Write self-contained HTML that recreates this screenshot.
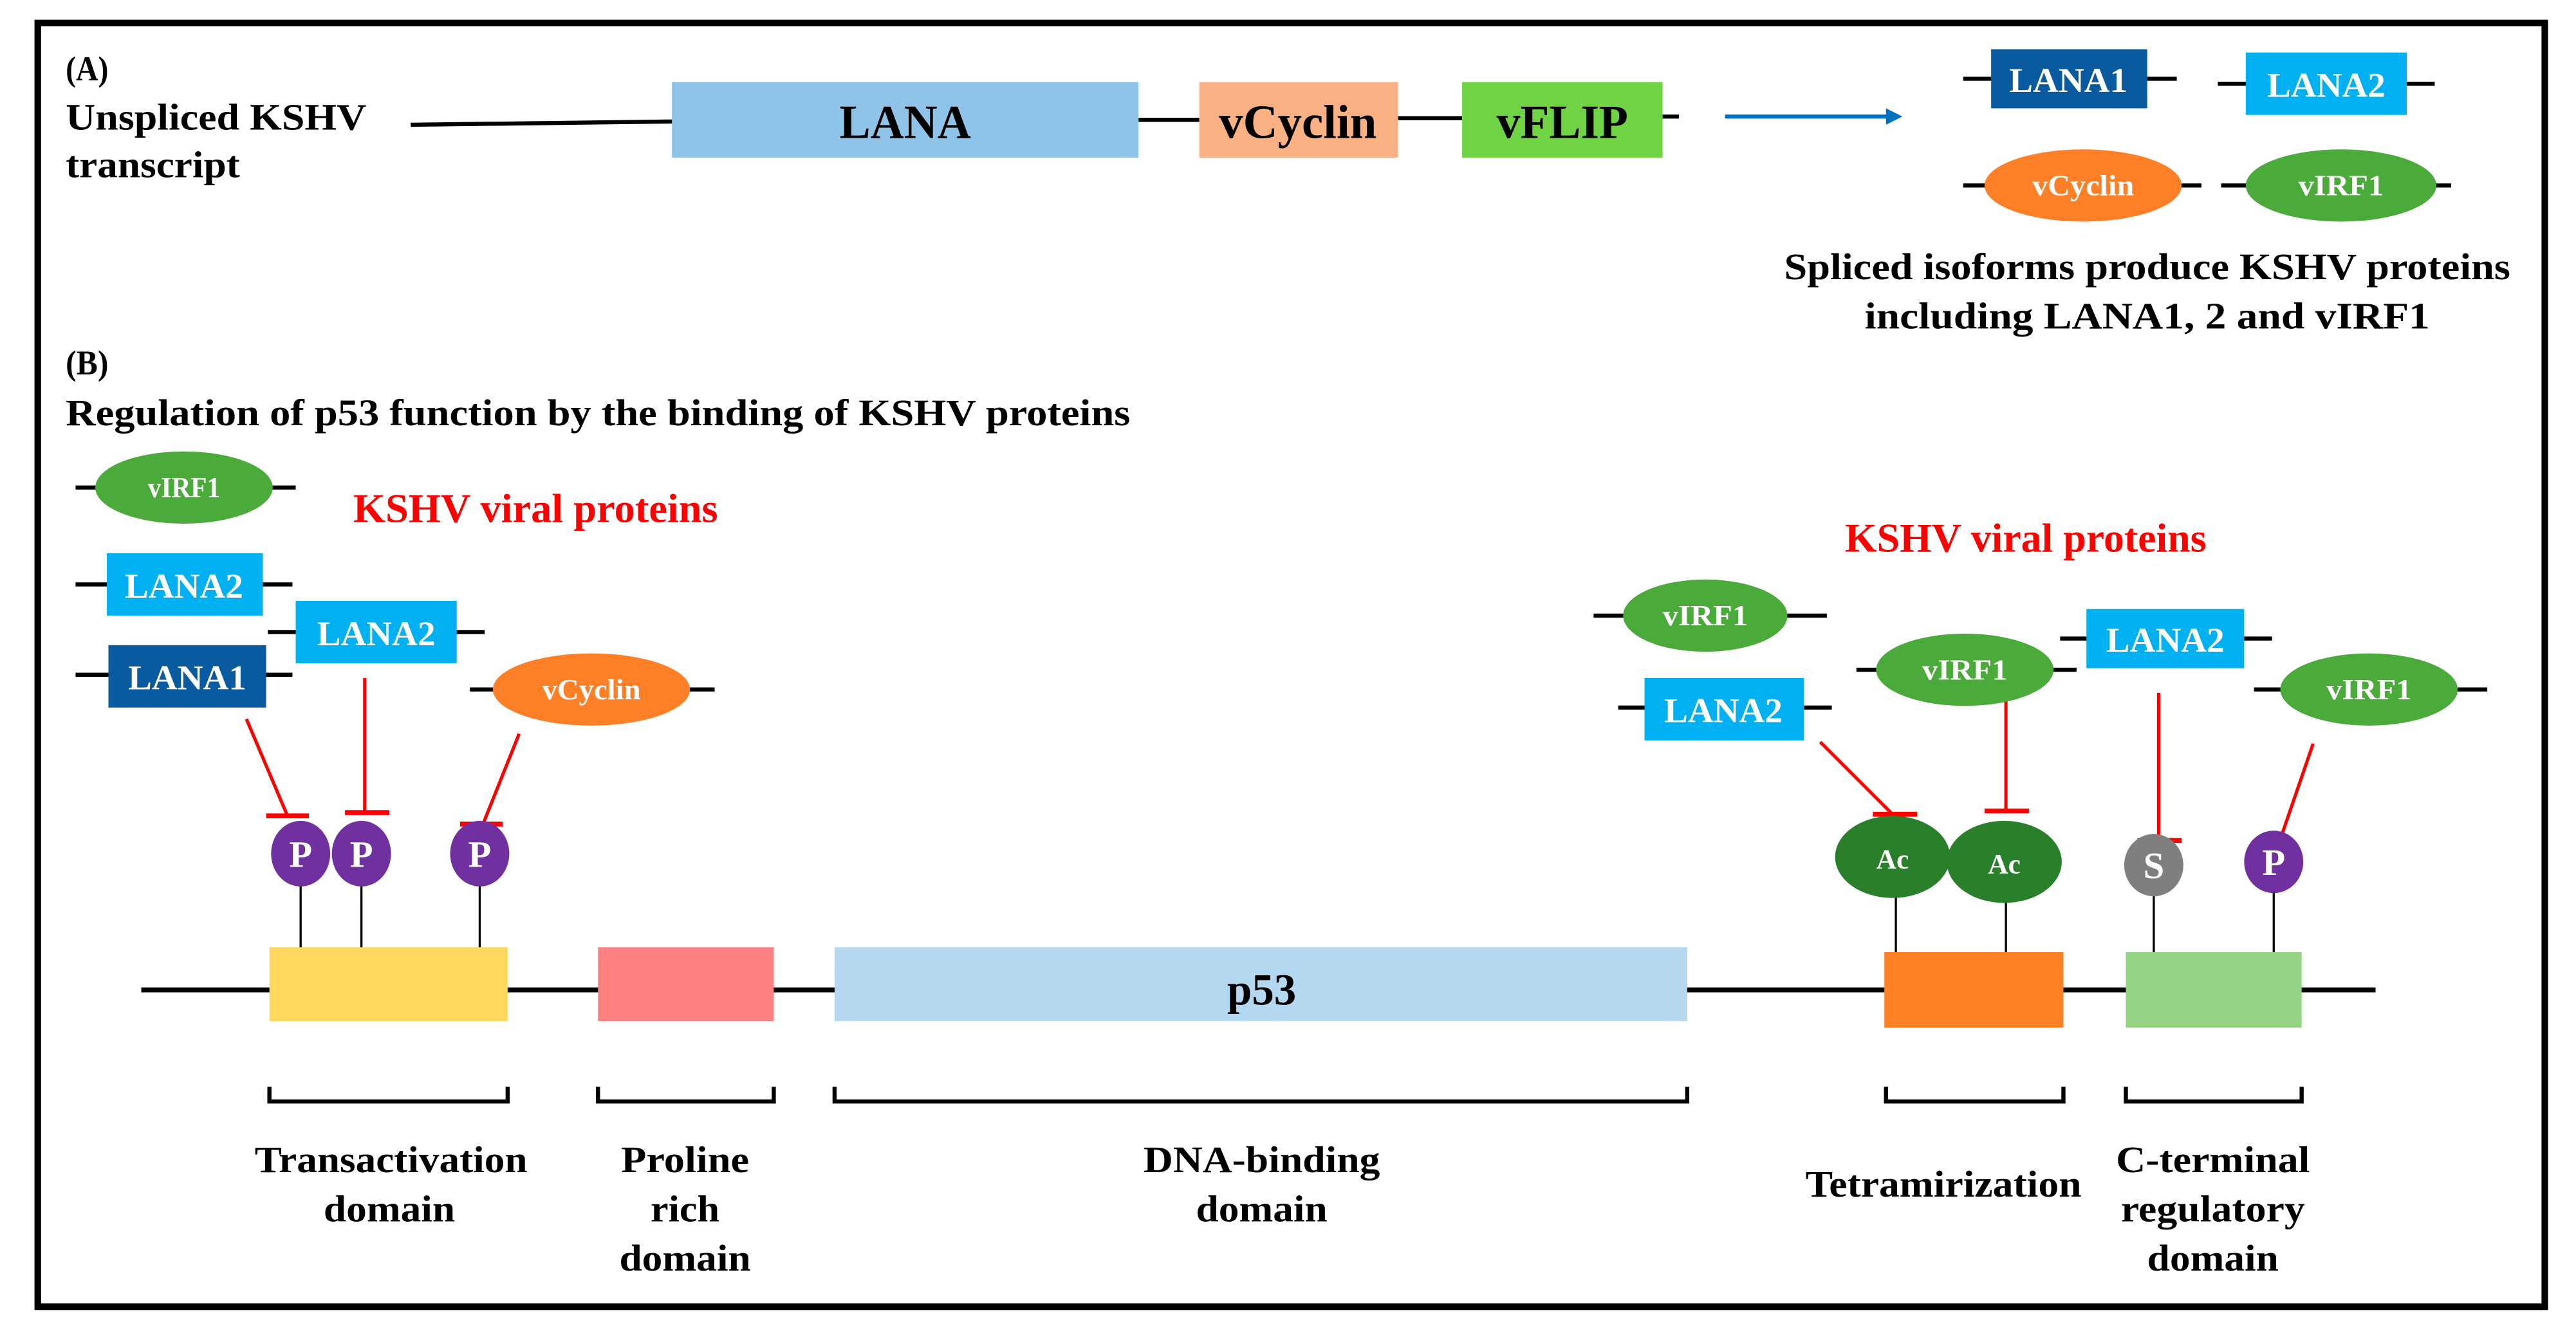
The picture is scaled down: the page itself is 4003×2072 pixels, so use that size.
<!DOCTYPE html>
<html><head><meta charset="utf-8"><style>
html,body{margin:0;padding:0;background:#fff;}
svg{display:block;}
text{font-family:"Liberation Serif",serif;font-weight:bold;}
</style></head><body>
<svg width="4003" height="2072" viewBox="0 0 1568 812" preserveAspectRatio="none" xmlns="http://www.w3.org/2000/svg">
<rect x="0" y="0" width="1568" height="812" fill="#fff"/>
<rect x="23" y="14" width="1526" height="782" fill="none" stroke="#000" stroke-width="4"/>

<!-- Part A -->
<text x="40" y="49" font-size="21" textLength="26" lengthAdjust="spacingAndGlyphs">(A)</text>
<text x="40" y="79" font-size="23" textLength="183" lengthAdjust="spacingAndGlyphs">Unspliced KSHV</text>
<text x="40" y="108" font-size="23" textLength="106" lengthAdjust="spacingAndGlyphs">transcript</text>
<g stroke="#000" stroke-width="2.5">
<line x1="250" y1="76" x2="410" y2="74"/>
<line x1="693" y1="73" x2="730" y2="73"/>
<line x1="851" y1="72" x2="890" y2="72"/>
<line x1="1012" y1="71" x2="1022" y2="71"/>
</g>
<rect x="409" y="50" width="284" height="46" fill="#8fc4e8"/>
<text x="551" y="84" font-size="29" text-anchor="middle" textLength="80" lengthAdjust="spacingAndGlyphs">LANA</text>
<rect x="730" y="50" width="121" height="46" fill="#f9b083"/>
<text x="790" y="84" font-size="29" text-anchor="middle" textLength="96" lengthAdjust="spacingAndGlyphs">vCyclin</text>
<rect x="890" y="50" width="122" height="46" fill="#6fd344"/>
<text x="951" y="84" font-size="29" text-anchor="middle" textLength="80" lengthAdjust="spacingAndGlyphs">vFLIP</text>
<line x1="1050" y1="71" x2="1150" y2="71" stroke="#0070c0" stroke-width="2.5"/>
<polygon points="1148,66 1158,71 1148,76" fill="#0070c0"/>

<g stroke="#000" stroke-width="2.5">
<line x1="1195" y1="48" x2="1325" y2="48"/>
<line x1="1350" y1="51" x2="1482" y2="51"/>
<line x1="1195" y1="113" x2="1340" y2="113"/>
<line x1="1352" y1="113" x2="1492" y2="113"/>
</g>
<rect x="1212" y="30" width="95" height="36" fill="#0a5aa0"/>
<text x="1259" y="56" font-size="21" fill="#fff" text-anchor="middle" textLength="72" lengthAdjust="spacingAndGlyphs">LANA1</text>
<rect x="1367" y="32" width="98" height="38" fill="#00b0f0"/>
<text x="1416" y="59" font-size="21" fill="#fff" text-anchor="middle" textLength="72" lengthAdjust="spacingAndGlyphs">LANA2</text>
<ellipse cx="1268" cy="113" rx="60" ry="22" fill="#ff7f27"/>
<text x="1268" y="119" font-size="18" fill="#fff" text-anchor="middle" textLength="62" lengthAdjust="spacingAndGlyphs">vCyclin</text>
<ellipse cx="1425" cy="113" rx="58" ry="22" fill="#4aaa3a"/>
<text x="1425" y="119" font-size="18" fill="#fff" text-anchor="middle" textLength="52" lengthAdjust="spacingAndGlyphs">vIRF1</text>
<text x="1307" y="170" font-size="23" text-anchor="middle" textLength="442" lengthAdjust="spacingAndGlyphs">Spliced isoforms produce KSHV proteins</text>
<text x="1307" y="200" font-size="23" text-anchor="middle" textLength="344" lengthAdjust="spacingAndGlyphs">including LANA1, 2 and vIRF1</text>

<!-- Part B -->
<text x="40" y="228" font-size="21" textLength="26" lengthAdjust="spacingAndGlyphs">(B)</text>
<text x="40" y="259" font-size="23" textLength="648" lengthAdjust="spacingAndGlyphs">Regulation of p53 function by the binding of KSHV proteins</text>
<text x="215" y="318" font-size="25" fill="#f00" textLength="222" lengthAdjust="spacingAndGlyphs">KSHV viral proteins</text>
<text x="1123" y="336" font-size="25" fill="#f00" textLength="220" lengthAdjust="spacingAndGlyphs">KSHV viral proteins</text>

<!-- inhibition -->
<g stroke="#f00" stroke-width="2">
<line x1="150" y1="438" x2="175" y2="497"/><line x1="162" y1="497" x2="188" y2="497" stroke-width="3"/>
<line x1="222" y1="413" x2="222" y2="495"/><line x1="210" y1="495" x2="237" y2="495" stroke-width="3"/>
<line x1="316" y1="447" x2="294" y2="502"/><line x1="280" y1="502" x2="306" y2="502" stroke-width="3"/>
<line x1="1108" y1="452" x2="1152" y2="496"/><line x1="1140" y1="496" x2="1167" y2="496" stroke-width="3"/>
<line x1="1221" y1="412" x2="1221" y2="494"/><line x1="1208" y1="494" x2="1235" y2="494" stroke-width="3"/>
<line x1="1314" y1="422" x2="1314" y2="512"/><line x1="1301" y1="512" x2="1328" y2="512" stroke-width="3"/>
<line x1="1408" y1="453" x2="1385" y2="520"/><line x1="1370" y1="520" x2="1398" y2="520" stroke-width="3"/>
</g>

<g stroke="#000" stroke-width="2.5">
<line x1="46" y1="297" x2="180" y2="297"/>
<line x1="46" y1="356" x2="178" y2="356"/>
<line x1="163" y1="385" x2="295" y2="385"/>
<line x1="46" y1="411" x2="178" y2="411"/>
<line x1="286" y1="420" x2="435" y2="420"/>
<line x1="970" y1="375" x2="1112" y2="375"/>
<line x1="985" y1="431" x2="1115" y2="431"/>
<line x1="1130" y1="408" x2="1264" y2="408"/>
<line x1="1254" y1="389" x2="1383" y2="389"/>
<line x1="1372" y1="420" x2="1514" y2="420"/>
</g>
<ellipse cx="112" cy="297" rx="54" ry="22" fill="#4aaa3a"/>
<text x="112" y="303" font-size="18" fill="#fff" text-anchor="middle" textLength="44" lengthAdjust="spacingAndGlyphs">vIRF1</text>
<rect x="65" y="337" width="95" height="38" fill="#00b0f0"/>
<text x="112" y="364" font-size="21" fill="#fff" text-anchor="middle" textLength="72" lengthAdjust="spacingAndGlyphs">LANA2</text>
<rect x="180" y="366" width="98" height="38" fill="#00b0f0"/>
<text x="229" y="393" font-size="21" fill="#fff" text-anchor="middle" textLength="72" lengthAdjust="spacingAndGlyphs">LANA2</text>
<rect x="66" y="393" width="96" height="38" fill="#0a5aa0"/>
<text x="114" y="420" font-size="21" fill="#fff" text-anchor="middle" textLength="72" lengthAdjust="spacingAndGlyphs">LANA1</text>
<ellipse cx="360" cy="420" rx="60" ry="22" fill="#ff7f27"/>
<text x="360" y="426" font-size="18" fill="#fff" text-anchor="middle" textLength="60" lengthAdjust="spacingAndGlyphs">vCyclin</text>

<ellipse cx="1038" cy="375" rx="50" ry="22" fill="#4aaa3a"/>
<text x="1038" y="381" font-size="18" fill="#fff" text-anchor="middle" textLength="52" lengthAdjust="spacingAndGlyphs">vIRF1</text>
<rect x="1001" y="413" width="97" height="38" fill="#00b0f0"/>
<text x="1049" y="440" font-size="21" fill="#fff" text-anchor="middle" textLength="72" lengthAdjust="spacingAndGlyphs">LANA2</text>
<ellipse cx="1196" cy="408" rx="54" ry="22" fill="#4aaa3a"/>
<text x="1196" y="414" font-size="18" fill="#fff" text-anchor="middle" textLength="52" lengthAdjust="spacingAndGlyphs">vIRF1</text>
<rect x="1270" y="371" width="96" height="36" fill="#00b0f0"/>
<text x="1318" y="397" font-size="21" fill="#fff" text-anchor="middle" textLength="72" lengthAdjust="spacingAndGlyphs">LANA2</text>
<ellipse cx="1442" cy="420" rx="54" ry="22" fill="#4aaa3a"/>
<text x="1442" y="426" font-size="18" fill="#fff" text-anchor="middle" textLength="52" lengthAdjust="spacingAndGlyphs">vIRF1</text>

<!-- stems -->
<g stroke="#000" stroke-width="1.3">
<line x1="183" y1="535" x2="183" y2="578"/>
<line x1="220" y1="535" x2="220" y2="578"/>
<line x1="292" y1="535" x2="292" y2="578"/>
<line x1="1154" y1="540" x2="1154" y2="582"/>
<line x1="1221" y1="543" x2="1221" y2="588"/>
<line x1="1311" y1="540" x2="1311" y2="582"/>
<line x1="1384" y1="540" x2="1384" y2="582"/>
</g>
<g fill="#7030a0">
<ellipse cx="183" cy="520" rx="18" ry="20"/>
<ellipse cx="220" cy="520" rx="18" ry="20"/>
<ellipse cx="292" cy="520" rx="18" ry="20"/>
<ellipse cx="1384" cy="525" rx="18" ry="19"/>
</g>
<ellipse cx="1152" cy="522" rx="35" ry="25" fill="#2a7f2a"/>
<ellipse cx="1220" cy="525" rx="35" ry="25" fill="#2a7f2a"/>
<ellipse cx="1311" cy="527" rx="18" ry="19" fill="#7f7f7f"/>
<g font-size="23" fill="#fff" text-anchor="middle">
<text x="183" y="528">P</text><text x="220" y="528">P</text><text x="292" y="528">P</text>
<text x="1384" y="533">P</text><text x="1311" y="535">S</text>
</g>
<text x="1152" y="529" font-size="17" fill="#fff" text-anchor="middle">Ac</text>
<text x="1220" y="532" font-size="17" fill="#fff" text-anchor="middle">Ac</text>

<!-- main line and domains -->
<line x1="86" y1="603" x2="1446" y2="603" stroke="#000" stroke-width="3"/>
<rect x="164" y="577" width="145" height="45" fill="#ffd75e"/>
<rect x="364" y="577" width="107" height="45" fill="#ff8080"/>
<rect x="508" y="577" width="519" height="45" fill="#b4d8ef"/>
<text x="768" y="612" font-size="27" text-anchor="middle" textLength="42" lengthAdjust="spacingAndGlyphs">p53</text>
<rect x="1147" y="580" width="109" height="46" fill="#ff8125"/>
<rect x="1294" y="580" width="107" height="46" fill="#94d286"/>

<!-- brackets -->
<g fill="none" stroke="#000" stroke-width="2.5">
<polyline points="164,662 164,671 309,671 309,662"/>
<polyline points="364,662 364,671 471,671 471,662"/>
<polyline points="508,662 508,671 1027,671 1027,662"/>
<polyline points="1148,662 1148,671 1256,671 1256,662"/>
<polyline points="1294,662 1294,671 1401,671 1401,662"/>
</g>
<g font-size="23" text-anchor="middle">
<text x="238" y="714" textLength="166" lengthAdjust="spacingAndGlyphs">Transactivation</text>
<text x="237" y="744" textLength="80" lengthAdjust="spacingAndGlyphs">domain</text>
<text x="417" y="714" textLength="78" lengthAdjust="spacingAndGlyphs">Proline</text>
<text x="417" y="744" textLength="42" lengthAdjust="spacingAndGlyphs">rich</text>
<text x="417" y="774" textLength="80" lengthAdjust="spacingAndGlyphs">domain</text>
<text x="768" y="714" textLength="144" lengthAdjust="spacingAndGlyphs">DNA-binding</text>
<text x="768" y="744" textLength="80" lengthAdjust="spacingAndGlyphs">domain</text>
<text x="1183" y="729" textLength="168" lengthAdjust="spacingAndGlyphs">Tetramirization</text>
<text x="1347" y="714" textLength="118" lengthAdjust="spacingAndGlyphs">C-terminal</text>
<text x="1347" y="744" textLength="112" lengthAdjust="spacingAndGlyphs">regulatory</text>
<text x="1347" y="774" textLength="80" lengthAdjust="spacingAndGlyphs">domain</text>
</g>
</svg>
</body></html>
